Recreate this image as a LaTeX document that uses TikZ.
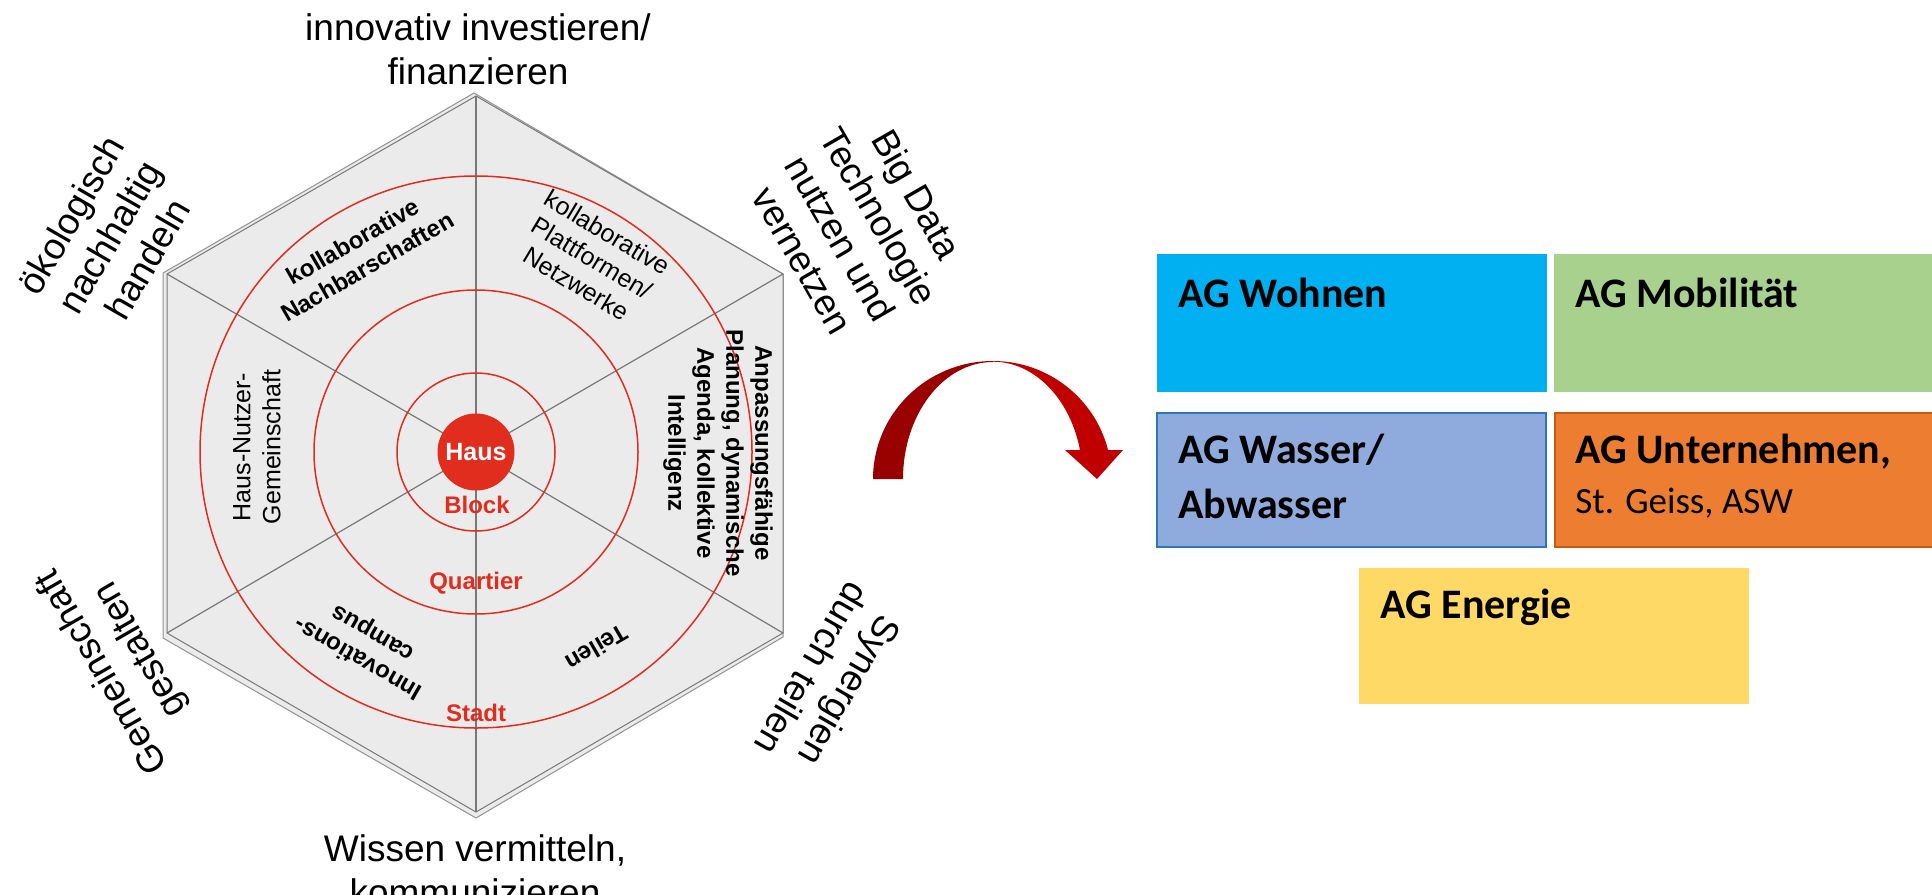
\documentclass[tikz,border=0pt]{standalone}
\usepackage{fontspec}
\setmainfont{Liberation Sans}
\newfontfamily\boxfont{Carlito}
\usetikzlibrary{positioning}

\definecolor{hexfill}{RGB}{235,235,235}
\definecolor{hexline}{RGB}{120,120,120}
\definecolor{ringred}{RGB}{224,45,30}
\definecolor{arrowdark}{RGB}{153,0,0}
\definecolor{arrowlight}{RGB}{192,0,0}
\definecolor{agwohnen}{RGB}{0,176,240}
\definecolor{agmobil}{RGB}{169,209,142}
\definecolor{agwasser}{RGB}{143,170,220}
\definecolor{agwasserline}{RGB}{46,117,182}
\definecolor{agunter}{RGB}{237,125,49}
\definecolor{agunterline}{RGB}{197,90,17}
\definecolor{agenergie}{RGB}{255,217,102}

\tikzset{
  axislabel/.style={font=\fontsize{18.5}{22}\selectfont, align=center, inner sep=0pt},
  sectorbold/.style={font=\bfseries\fontsize{12}{14.5}\selectfont, align=center, inner sep=0pt},
  sectorplain/.style={font=\fontsize{12.5}{15}\selectfont, align=center, inner sep=0pt},
  ringlabel/.style={font=\bfseries\fontsize{12}{14}\selectfont, text=ringred, inner sep=0pt},
  ring/.style={draw=ringred, line width=0.75pt},
  spoke/.style={draw=hexline, line width=0.6pt},
  agtitle/.style={font=\boxfont\bfseries\fontsize{21}{27}\selectfont, anchor=base west, inner sep=0pt},
  agsub/.style={font=\boxfont\fontsize{18.5}{22}\selectfont, anchor=base west, inner sep=0pt},
}

\begin{document}
\begin{tikzpicture}[x=0.5pt,y=0.5pt,yscale=-1,xscale=1]
	\useasboundingbox (0,0) rectangle (1932,894);
	\clip (0,0) rectangle (1932,894);

	%Hexagon corners
	\coordinate (hc) at (476,452);
	\coordinate (T) at (476,96);
	\coordinate (UR) at (783,274);
	\coordinate (LR) at (783,633);
	\coordinate (B) at (476,812);
	\coordinate (LL) at (167,633);
	\coordinate (UL) at (167,274);

	%Shape: Hexagon (back edge)
	\draw [fill=hexfill, draw=hexline!80, line width=0.5pt] (474,93) -- (783,274) -- (783,637) -- (476,818) -- (163,638) -- (163,273) -- cycle;
	%Shape: Hexagon
	\draw [fill=hexfill, draw=hexline, line width=0.5pt] (T) -- (UR) -- (LR) -- (B) -- (LL) -- (UL) -- cycle;

	%Straight Lines
	\foreach \v in {T,UR,LR,B,LL,UL}
		\draw [spoke] (hc) -- (\v);

	%Circles
	\draw [ring] (hc) circle [radius=79];
	\draw [ring] (hc) circle [radius=162];
	\draw [ring] (hc) circle [radius=276];

	% Text Node
	\node (haus) [circle, fill=ringred, minimum size=38.5pt, inner sep=0pt, text=white, font=\bfseries\fontsize{12.5}{14}\selectfont] at (hc) {Haus};
	% Text Node
	\node (block) [ringlabel] at (477,505) {Block};
	% Text Node
	\node (quartier) [ringlabel] at (476,583) {Quartier};
	% Text Node
	\node (stadt) [ringlabel] at (476,713) {Stadt};

	% Text Node
	\node (nachbar) [sectorbold, rotate=30] at (360,254) {kollaborative\\Nachbarschaften};
	% Text Node
	\node (plattform) [sectorplain, rotate=-31] at (592,258) {kollaborative\\Plattformen/\\Netzwerke};
	% Text Node
	\node (hausnutzer) [sectorplain, rotate=90] at (257,447) {Haus-Nutzer-\\Gemeinschaft};
	% Text Node
	\node (anpassung) [sectorbold, rotate=-90] at (718,453) {Anpassungsfähige\\Planung, dynamische\\Agenda, kollektive\\Intelligenz};
	% Text Node
	\node (campus) [sectorbold, rotate=150] at (366,645) {Innovations-\\campus};
	% Text Node
	\node (teilen) [sectorbold, rotate=210] at (597,648) {Teilen};

	% Text Node
	\node (invest) [axislabel] at (478,49) {innovativ investieren/\\finanzieren};
	% Text Node
	\node (oeko) [axislabel, rotate=60] at (109,237) {ökologisch\\nachhaltig\\handeln};
	% Text Node
	\node (bigdata) [axislabel, rotate=-60] at (860,227) {Big Data\\Technologie\\nutzen und\\vernetzen};
	% Text Node
	\node (gemein) [axislabel, rotate=120] at (122,660) {Gemeinschaft\\gestalten};
	% Text Node
	\node (synergie) [axislabel, rotate=240] at (831,680) {Synergien\\durch teilen};
	% Text Node
	\node (wissen) [axislabel] at (475,870) {Wissen vermitteln,\\kommunizieren};

	%Curved Right Arrow
	\fill [arrowlight] (993,361) arc [start angle=270, end angle=345.8, x radius=118.7, y radius=118] -- (1080,450) arc [start angle=345.8, end angle=270, x radius=89.8, y radius=117] -- cycle;
	\fill [arrowlight] (1065,450) -- (1123,450) -- (1097,479) -- cycle;
	\fill [arrowdark] (873,479) arc [start angle=180, end angle=270, x radius=120, y radius=118] -- (993,362) arc [start angle=270, end angle=180, x radius=90, y radius=117] -- cycle;

	%Shape: Rectangles
	\fill [agwohnen] (1157,254) rectangle (1547,392);
	\fill [agmobil] (1554,254) rectangle (1932,392);
	\draw [fill=agwasser, draw=agwasserline, line width=1pt] (1157,413) rectangle (1546,547);
	\draw [fill=agunter, draw=agunterline, line width=1pt] (1555,413) rectangle (1940,547);
	\fill [agenergie] (1359,568) rectangle (1749,704);

	% Text Node
	\node (wohnen) [agtitle] at (1178,307) {AG Wohnen};
	% Text Node
	\node (mobil) [agtitle] at (1575,307) {AG Mobilität};
	% Text Node
	\node (wasser) [agtitle] at (1178,463) {AG Wasser/};
	% Text Node
	\node (abwasser) [agtitle] at (1178,518) {Abwasser};
	% Text Node
	\node (unternehmen) [agtitle] at (1575,463) {AG Unternehmen,};
	% Text Node
	\node (geiss) [agsub] at (1575,513) {St. Geiss, ASW};
	% Text Node
	\node (energie) [agtitle] at (1380,618) {AG Energie};

\end{tikzpicture}
\end{document}
